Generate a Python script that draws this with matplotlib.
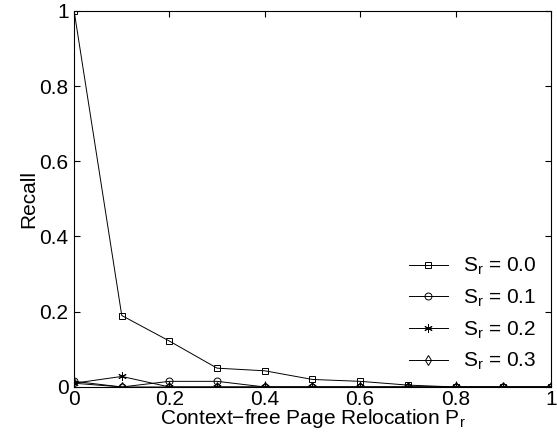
import matplotlib.pyplot as plt

plt.rcParams['font.family'] = ['Liberation Sans', 'DejaVu Sans']
plt.rcParams['mathtext.default'] = 'regular'

# Данные
p_r = [0.0, 0.1, 0.2, 0.3, 0.4, 0.5, 0.6, 0.7, 0.8, 0.9, 1.0]
recall_s00 = [1.0, 0.19, 0.122, 0.05, 0.043, 0.02, 0.015, 0.005, 0.0, 0.0, 0.0]
recall_s01 = [0.015, 0.0, 0.015, 0.015, 0.0, 0.0, 0.0, 0.0, 0.0, 0.0, 0.0]
recall_s02 = [0.01, 0.028, 0.0, 0.0, 0.0, 0.0, 0.0, 0.0, 0.0, 0.0, 0.0]
recall_s03 = [0.01, 0.0, 0.0, 0.0, 0.0, 0.0, 0.0, 0.0, 0.0, 0.0, 0.0]

fig = plt.figure(figsize=(5.57, 4.40), dpi=100)
ax = fig.add_axes([0.133, 0.1205, 0.856, 0.855])

ax.plot(p_r, recall_s00, 'k-', marker='s', mfc='none', ms=4.5, lw=0.7, mew=0.7, label='$S_r$ = 0.0')
ax.plot(p_r, recall_s01, 'k-', marker='o', mfc='none', ms=5, lw=0.7, mew=0.7, label='$S_r$ = 0.1')
ax.plot(p_r, recall_s02, 'k-', marker=(6, 2, 0), ms=6, lw=0.7, mew=0.7, label='$S_r$ = 0.2')
ax.plot(p_r, recall_s03, 'k-', marker='d', mfc='none', ms=5.5, lw=0.7, mew=0.7, label='$S_r$ = 0.3')

ax.set_xlim(0, 1)
ax.set_ylim(0, 1)
ax.set_xticks([0, 0.2, 0.4, 0.6, 0.8, 1])
ax.set_xticklabels(['0', '0.2', '0.4', '0.6', '0.8', '1'])
ax.set_yticks([0, 0.2, 0.4, 0.6, 0.8, 1])
ax.set_yticklabels(['0', '0.2', '0.4', '0.6', '0.8', '1'])
ax.tick_params(direction='in', top=True, right=True, labelsize=15, length=4)
ax.tick_params(axis='x', pad=2)
ax.tick_params(axis='y', pad=4)
ax.set_xlabel('Context\u2212free Page Relocation $P_r$', fontsize=15, labelpad=-1)
ax.set_ylabel('Recall', fontsize=15, labelpad=1)
for s in ax.spines.values():
    s.set_linewidth(0.8)

ax.legend(loc='lower right', bbox_to_anchor=(1.0, 0.0), frameon=False, fontsize=15,
          handlelength=1.9, labelspacing=0.5, handletextpad=0.7, borderaxespad=0.3)

fig.savefig('out.png', dpi=100)
